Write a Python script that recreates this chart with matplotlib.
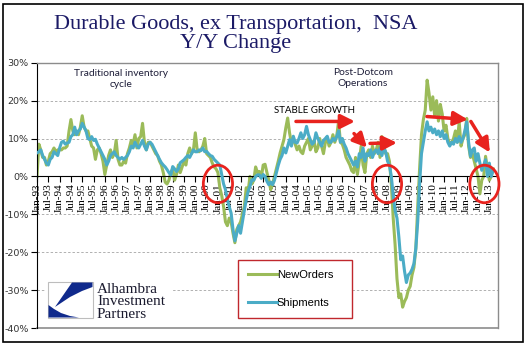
import numpy as np
import matplotlib.pyplot as plt
from matplotlib.patches import Ellipse, Rectangle, Polygon

# monthly Y/Y change, Jan-93 .. Mar-13 (%)
new_orders = [
    0.0, 8.5, 7.0, 5.0, 5.0, 3.0, 4.0, 6.0, 6.5, 7.5, 6.5, 7.0,          # 1993
    7.0, 7.0, 7.5, 7.5, 8.0, 12.0, 15.0, 12.0, 11.0, 12.0, 11.0, 13.0,   # 1994
    16.0, 13.0, 12.0, 12.0, 10.0, 8.0, 7.5, 4.5, 7.0, 7.5, 6.0, 4.0,     # 1995
    0.5, 3.0, 5.5, 7.0, 5.0, 6.0, 9.5, 4.5, 3.0, 3.0, 4.0, 3.5,          # 1996
    6.0, 7.5, 9.5, 8.5, 11.0, 7.5, 10.0, 10.5, 14.0, 9.0, 7.0, 9.0,      # 1997
    9.0, 8.0, 7.0, 6.0, 5.5, 4.0, 3.0, 1.0, -1.5, -2.0, -1.0, 1.0,       # 1998
    2.0, -1.0, 0.5, 3.0, 1.0, 2.5, 4.0, 3.0, 6.0, 7.5, 6.0, 7.0,         # 1999
    11.5, 7.0, 6.5, 7.0, 8.0, 10.0, 6.0, 5.5, 5.0, 3.5, 2.5, 2.0,        # 2000
    1.0, -3.0, -5.0, -8.0, -12.0, -13.0, -11.0, -12.0, -15.0, -17.5, -14.0, -13.0,  # 2001
    -12.0, -10.0, -8.0, -3.0, -4.0, 0.0, -2.0, -1.0, 2.5, 1.0, 1.3, -0.4,  # 2002
    3.0, 3.2, 1.0, -1.0, -3.5, -2.0, 0.0, 2.0, 4.0, 6.2, 8.0, 9.7,       # 2003
    12.8, 15.4, 11.5, 8.8, 9.5, 8.5, 7.0, 8.0, 6.5, 6.0, 8.0, 9.0,       # 2004
    10.0, 7.0, 8.0, 9.5, 6.5, 7.5, 10.0, 8.0, 6.0, 9.0, 10.0, 8.0,       # 2005
    9.0, 11.0, 9.0, 10.5, 14.5, 9.0, 8.5, 7.0, 5.0, 4.0, 3.0, 1.5,       # 2006
    1.0, 5.0, 0.5, 4.0, 8.0, 3.0, 1.0, 6.0, 7.0, 5.0, 8.0, 6.0,          # 2007
    7.0, 9.0, 5.0, 10.5, 8.0, 6.0, 6.0, 4.0, -2.0, -11.0, -18.0, -27.0,  # 2008
    -32.0, -31.0, -34.5, -33.0, -32.0, -30.0, -29.0, -26.0, -24.0, -19.0, -8.0, 2.0,  # 2009
    11.0, 15.0, 17.5, 25.4, 22.0, 17.5, 21.0, 16.0, 20.0, 14.6, 19.0, 16.5,  # 2010
    12.0, 13.5, 10.0, 8.4, 9.0, 10.0, 12.0, 9.0, 14.4, 8.0, 10.0, 11.0,  # 2011
    15.3, 8.0, 5.0, 6.0, 4.0, 2.0, 0.0, -4.6, -1.0, 0.0, 5.3, 2.0,       # 2012
    -1.0, 0.0, 2.0,                                                      # 2013
]
shipments = [
    6.2, 6.5, 7.0, 5.5, 4.5, 3.5, 3.0, 4.5, 5.0, 6.5, 6.0, 5.5,          # 1993
    7.5, 9.0, 9.3, 8.5, 8.8, 9.0, 10.5, 11.0, 13.0, 11.0, 12.0, 12.5,    # 1994
    14.0, 13.0, 12.0, 10.0, 9.7, 10.5, 9.5, 9.8, 8.5, 7.5, 6.5, 5.5,     # 1995
    4.5, 3.0, 4.0, 5.5, 6.0, 6.5, 5.5, 5.0, 4.5, 5.0, 4.5, 5.0,          # 1996
    5.5, 6.5, 8.0, 7.5, 9.0, 8.0, 7.5, 8.5, 9.5, 8.0, 7.0, 8.5,          # 1997
    9.0, 8.5, 7.5, 6.5, 5.5, 4.5, 3.6, 3.0, 2.5, 1.8, 1.0, 0.4,          # 1998
    2.6, 2.0, 1.3, 2.0, 3.6, 4.0, 4.4, 5.0, 5.5, 5.0, 6.0, 7.0,          # 1999
    6.5, 6.5, 7.0, 6.8, 7.5, 6.5, 6.6, 6.0, 5.5, 5.3, 4.5, 4.0,          # 2000
    3.5, 3.0, 0.5, -2.0, -3.5, -6.0, -8.0, -9.7, -14.0, -17.0, -15.0, -13.0,  # 2001
    -15.0, -12.0, -9.0, -6.2, -4.0, -2.6, -0.9, -1.0, 0.0, 0.4, 0.4, -0.5,  # 2002
    0.5, 0.0, -1.3, -2.2, -1.5, -2.2, -1.0, 0.9, 2.9, 4.5, 5.5, 7.5,     # 2003
    6.2, 8.0, 9.7, 8.0, 10.6, 9.0, 8.8, 10.0, 11.5, 10.0, 11.0, 13.2,    # 2004
    11.0, 9.7, 8.5, 9.0, 11.5, 10.0, 9.0, 8.0, 9.5, 10.0, 10.6, 9.0,     # 2005
    9.0, 10.0, 9.5, 10.5, 12.0, 9.0, 10.0, 8.5, 7.5, 6.0, 5.0, 4.0,      # 2006
    3.0, 4.0, 2.5, 6.0, 5.0, 7.5, 4.0, 6.0, 5.5, 7.0, 5.0, 6.5,          # 2007
    7.0, 6.0, 7.5, 5.5, 7.5, 6.5, 4.0, 3.0, 0.0, -5.0, -9.0, -11.0,      # 2008
    -16.0, -22.0, -21.0, -25.0, -28.0, -26.0, -25.5, -24.5, -23.0, -19.0, -12.0, -2.0,  # 2009
    6.0, 9.0, 12.0, 14.4, 12.0, 13.0, 11.5, 12.5, 11.0, 12.0, 10.5, 12.0,  # 2010
    10.0, 11.0, 9.0, 8.0, 9.0, 8.5, 10.0, 9.0, 10.5, 9.0, 10.0, 12.0,    # 2011
    14.4, 9.0, 5.3, 7.0, 7.5, 4.0, 6.0, 3.5, 1.6, 3.0, 4.4, 0.0,         # 2012
    3.5, 0.0, 1.6,                                                       # 2013
]
tick_labels = [f"{m}-{y % 100:02d}" for y in range(1993, 2014) for m in ("Jan", "Jul")][:-1]

GREEN = "#9bbb59"
BLUE = "#4bacc6"
RED = "#e8231e"
NAVY = "#1b1a66"
W, H = 532, 358


def fig_box(x0, y0, x1, y1):
    return [x0 / W, 1 - y1 / H, (x1 - x0) / W, (y1 - y0) / H]


fig = plt.figure(figsize=(W / 100, H / 100), dpi=100)
ax = fig.add_axes(fig_box(37, 62.7, 498, 328))

months = np.arange(len(shipments))
ax.plot(months, new_orders, color=GREEN, lw=2.2, label="NewOrders", zorder=2)
ax.plot(months, shipments, color=BLUE, lw=2.2, label="Shipments", zorder=3)

ax.set_xlim(0, 244.6)
ax.set_ylim(-40, 30)
ax.set_axisbelow(True)

# grid + frame
for v in (20, 10, -10, -20, -30):
    ax.axhline(v, color="#b0b0b0", lw=0.7, ls=(0, (2.5, 2)), zorder=0.5)
ax.axhline(-40, color="#8c8c8c", lw=1.2, clip_on=False)
for s in ("top", "right"):
    ax.spines[s].set_color("#8c8c8c")
    ax.spines[s].set_linewidth(1.0)
ax.spines["left"].set_color("black")
ax.spines["bottom"].set_position(("data", 0))
ax.spines["bottom"].set_color("black")

ax.set_yticks(range(-40, 31, 10))
ax.yaxis.set_major_formatter(lambda v, p: f"{v:.0f}%")
ax.tick_params(axis="y", direction="out", length=4, width=0.8, pad=2,
               labelsize=6.8, labelcolor="#333333")
ax.set_xticks(np.arange(0, 241, 6))
ax.set_xticklabels(tick_labels, rotation=90, fontfamily="Liberation Serif", fontsize=8)
ax.tick_params(axis="x", direction="out", length=4, width=0.8, pad=1)

# red circles and arrows
for cx in (96, 185.7, 237.4):
    ax.add_patch(Ellipse((cx, -2.0), width=15.5, height=9.9, fill=False,
                         ec=RED, lw=2.0, zorder=6, clip_on=False))
arrows = [((137.4, 14.5), (168.7, 14.5)),
          ((168.2, 11.3), (175.1, 7.6)),
          ((176.7, 8.7), (191.0, 8.9)),
          ((206.9, 15.8), (228.6, 15.0)),
          ((230.2, 14.5), (240.3, 6.3))]
for start, end in arrows:
    ax.annotate("", xy=end, xytext=start, zorder=6,
                arrowprops=dict(arrowstyle="-|>,head_width=0.35,head_length=0.7",
                                mutation_scale=12, color=RED, lw=2.5,
                                shrinkA=0, shrinkB=0))

leg = ax.legend(loc="lower left", bbox_to_anchor=(0.436, 0.0377, 0.247, 0.226),
                mode="expand", borderaxespad=0, fancybox=False, framealpha=1,
                edgecolor="#c0282d", handlelength=2.6, handletextpad=0.0,
                borderpad=0.9, labelspacing=1.6,
                prop=dict(family="Liberation Sans", size=8))
leg.get_frame().set_linewidth(1.0)

# titles and notes
fig.text(236 / W, 1 - 28.5 / H, "Durable Goods, ex Transportation,  NSA", ha="center",
         va="baseline", fontsize=16, family="Liberation Serif", color=NAVY)
fig.text(236 / W, 1 - 48 / H, "Y/Y Change", ha="center", va="baseline",
         fontsize=16, family="Liberation Serif", color=NAVY)
fig.text(121 / W, 1 - 79 / H, "Traditional inventory\ncycle", ha="center", va="center",
         fontsize=7.4, family="Lato", color="#1f1f3a", linespacing=1.4)
fig.text(363 / W, 1 - 78 / H, "Post-Dotcom\nOperations", ha="center", va="center",
         fontsize=7.4, family="Lato", color="#1f1f3a", linespacing=1.4)
fig.text(315 / W, 1 - 110 / H, "STABLE GROWTH", ha="center", va="center",
         fontsize=7, family="Lato", color="black")

# overlay in pixel coordinates: logo and outer frame
lax = fig.add_axes([0, 0, 1, 1], zorder=10)
lax.set_xlim(0, W)
lax.set_ylim(H, 0)
lax.axis("off")
lax.add_patch(Rectangle((3, 4), 520, 338, fill=False, ec="black", lw=1.2))
lax.add_patch(Rectangle((46, 280), 126, 41, fc="white", ec="none"))
lax.add_patch(Rectangle((48, 282), 45, 36, fc="white", ec="#bdbdbd", lw=0.8))
lax.add_patch(Polygon([(72, 282.5), (92.5, 282.5), (92.5, 287), (82, 291), (70, 297),
                       (61, 303), (55, 307)], fc="#102a8c", ec="none"))
lax.add_patch(Polygon([(48.5, 305), (54, 309), (61, 313), (70, 316), (79, 317.5),
                       (48.5, 317.5)], fc="#102a8c", ec="none"))
for i, word in enumerate(["Alhambra", "Investment", "Partners"]):
    lax.text(97, 293 + 12.3 * i, word, ha="left", va="baseline", fontsize=11,
             family="Liberation Serif", color="#1a1a2e")

fig.savefig("out.png", dpi=100)
